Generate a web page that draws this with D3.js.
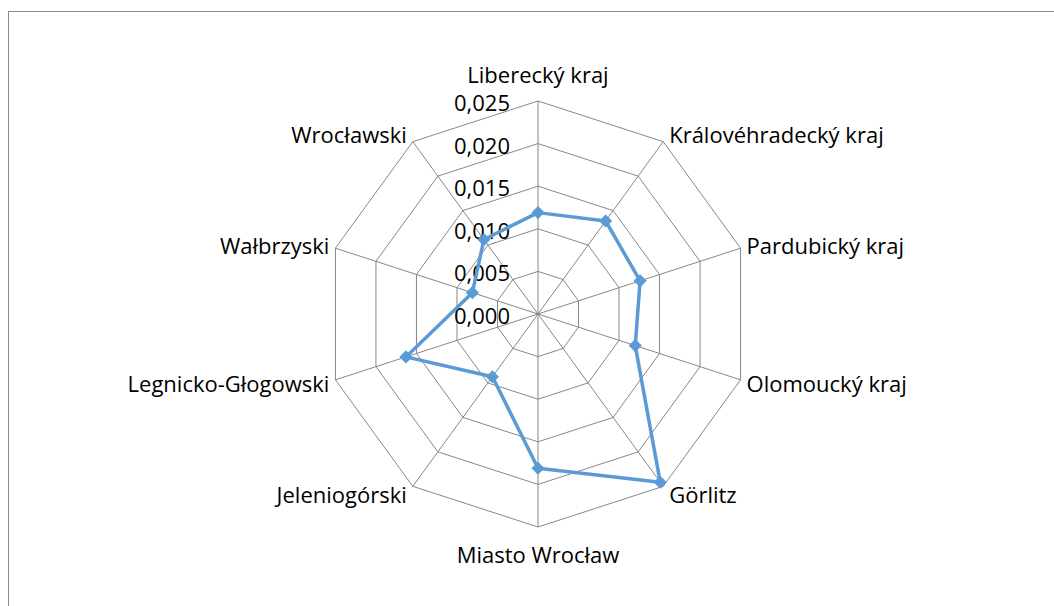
<!DOCTYPE html>
<html>
<head>
<meta charset="utf-8">
<script src="https://cdn.jsdelivr.net/npm/d3@7"></script>
<style>
  body { margin: 0; background: #fff; }
  text { font-family: "Open Sans", sans-serif; fill: #000; }
</style>
</head>
<body>
<div id="chart"></div>
<script>
// data
const categories = ["Liberecký kraj", "Královéhradecký kraj", "Pardubický kraj", "Olomoucký kraj", "Görlitz",
    "Miasto Wrocław", "Jeleniogórski", "Legnicko-Głogowski", "Wałbrzyski", "Wrocławski"];
const values = [0.0119, 0.0135, 0.0126, 0.0120, 0.0244, 0.0181, 0.0091, 0.0163, 0.0081, 0.0108];
const ticks = [0, 0.005, 0.010, 0.015, 0.020, 0.025];

const width = 1054, height = 606;
const cx = 538, cy = 314, R = 213;
const fontSize = 22;

const svg = d3.select("#chart").append("svg")
    .attr("width", width)
    .attr("height", height);

svg.append("rect")
    .attr("x", 8.5).attr("y", 11.5)
    .attr("width", width).attr("height", height)
    .attr("fill", "white")
    .attr("stroke", "#8c8c8c");

const r = d3.scaleLinear().domain([0, 0.025]).range([0, R]);
const angle = d3.scaleLinear().domain([0, categories.length]).range([0, 2 * Math.PI]);

function pt(i, v) {
    const a = angle(i);
    return [cx + r(v) * Math.sin(a), cy - r(v) * Math.cos(a)];
}

const g = svg.append("g");

// rings
ticks.slice(1).forEach(t => {
    g.append("path")
        .attr("d", d3.line()(categories.map((c, i) => pt(i, t))) + "Z")
        .attr("fill", "none")
        .attr("stroke", "#878787")
        .attr("stroke-width", 1);
});

// spokes
categories.forEach((c, i) => {
    const p = pt(i, 0.025);
    g.append("line")
        .attr("x1", cx).attr("y1", cy)
        .attr("x2", p[0]).attr("y2", p[1])
        .attr("stroke", "#878787")
        .attr("stroke-width", 1);
});

// category labels
categories.forEach((c, i) => {
    const a = angle(i);
    const dx = Math.sin(a), dy = -Math.cos(a);
    const p = pt(i, 0.025);
    let anchor = "middle", ox = 0, oy = dy * 27;
    if (dx > 0.1) { anchor = "start"; ox = 6; oy = dy * 10; }
    else if (dx < -0.1) { anchor = "end"; ox = -6; oy = dy * 10; }
    g.append("text")
        .attr("x", p[0] + ox)
        .attr("y", p[1] + oy)
        .attr("text-anchor", anchor)
        .attr("dominant-baseline", "central")
        .attr("font-size", fontSize)
        .text(c);
});

// tick labels
ticks.forEach(t => {
    g.append("text")
        .attr("x", cx - 28)
        .attr("y", cy - r(t) + 1)
        .attr("text-anchor", "end")
        .attr("dominant-baseline", "central")
        .attr("font-size", fontSize)
        .text(d3.format(".3f")(t).replace(".", ","));
});

// series
const pts = values.map((v, i) => pt(i, v));
g.append("path")
    .attr("d", d3.line()(pts) + "Z")
    .attr("fill", "none")
    .attr("stroke", "#5b9bd5")
    .attr("stroke-width", 3.5)
    .attr("stroke-linejoin", "round");

g.selectAll(".marker")
    .data(pts)
    .enter()
    .append("path")
    .attr("class", "marker")
    .attr("d", d3.symbol().type(d3.symbolDiamond2).size(110))
    .attr("transform", d => `translate(${d[0]},${d[1]})`)
    .attr("fill", "#5b9bd5");
</script>
</body>
</html>
